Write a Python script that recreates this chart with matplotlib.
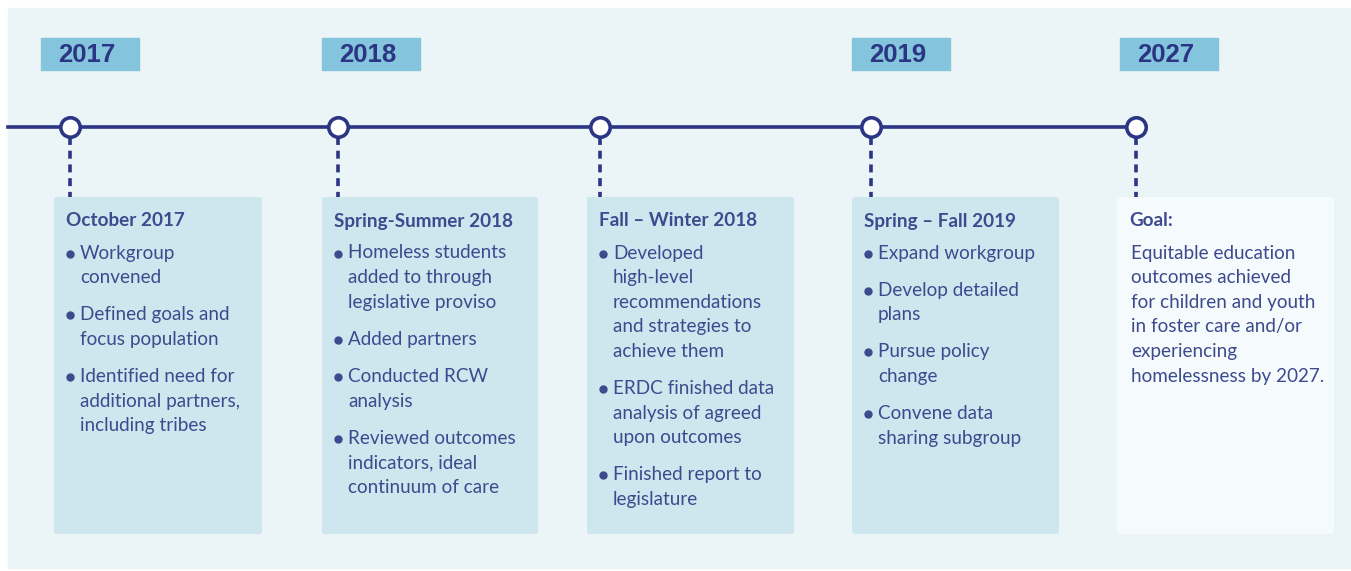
import matplotlib.pyplot as plt
from matplotlib.patches import Rectangle, FancyBboxPatch

# --- contenu de la frise ---
years = ["2017", "2018", "2019", "2027"]
titles = ["October 2017", "Spring-Summer 2018", "Fall \u2013 Winter 2018",
          "Spring \u2013 Fall 2019", "Goal:"]
bullets = [
    [["Workgroup", "convened"],
     ["Defined goals and", "focus population"],
     ["Identified need for", "additional partners,", "including tribes"]],
    [["Homeless students", "added to through", "legislative proviso"],
     ["Added partners"],
     ["Conducted RCW", "analysis"],
     ["Reviewed outcomes", "indicators, ideal", "continuum of care"]],
    [["Developed", "high-level", "recommendations", "and strategies to", "achieve them"],
     ["ERDC finished data", "analysis of agreed", "upon outcomes"],
     ["Finished report to", "legislature"]],
    [["Expand workgroup"],
     ["Develop detailed", "plans"],
     ["Pursue policy", "change"],
     ["Convene data", "sharing subgroup"]],
]
goal_text = ["Equitable education", "outcomes achieved", "for children and youth",
             "in foster care and/or", "experiencing", "homelessness by 2027."]

# --- mise en page (pixels) ---
W, H = 1351, 571
NAVY = "#2B3584"
TXT = "#3D4A8E"
fig = plt.figure(figsize=(W / 100, H / 100), dpi=100)
ax = fig.add_axes([0, 0, 1, 1])
ax.set_xlim(0, W); ax.set_ylim(H, 0); ax.axis("off")

ax.add_patch(Rectangle((8, 8), W - 8, H - 11, color="#EBF4F6", zorder=0))

year_x = [41, 322, 852, 1120]
for x, y in zip(year_x, years):
    ax.add_patch(Rectangle((x, 38), 98, 32, color="#84C4DC", zorder=1))
    ax.text(x + 46, 55, y, ha="center", va="center", fontsize=18.5,
            weight="bold", family="Liberation Sans", color=NAVY, zorder=2)

dots_x = [70, 338, 600, 871, 1136]
line_y = 127
ax.plot([8, dots_x[-1]], [line_y, line_y], color=NAVY, lw=2.6, zorder=2)
for x in dots_x:
    ax.plot([x, x], [line_y + 10, 197], color=NAVY, lw=2.6,
            dashes=(2.2, 1.6), zorder=2)
    ax.plot(x, line_y, "o", ms=14, mfc="white", mec=NAVY, mew=2.6, zorder=3)

box_x = [(54, 262), (322, 538), (587, 794), (852, 1059), (1117, 1334)]
fs = 13.6
lh = 24.6
gap = 12.5
for i, (x0, x1) in enumerate(box_x):
    fc = "#F5FBFC" if i == 4 else "#CEE6EE"
    ax.add_patch(FancyBboxPatch((x0, 197), x1 - x0, 337,
                                boxstyle="round,pad=0,rounding_size=3",
                                fc=fc, ec="none", zorder=1))
    tx = x0 + 12
    ax.text(tx, 221, titles[i], ha="left", va="center", fontsize=fs,
            weight="bold", family="Lato", color=TXT, zorder=2)
    y = 253
    if i == 4:
        for line in goal_text:
            ax.text(tx + 2, y, line, ha="left", va="center", fontsize=fs,
                    family="Lato", color=TXT, zorder=2)
            y += lh
        continue
    for item in bullets[i]:
        ax.plot(tx + 4, y + 0.5, "o", ms=5, color=TXT, zorder=2)
        for line in item:
            ax.text(tx + 14, y, line, ha="left", va="center", fontsize=fs,
                    family="Lato", color=TXT, zorder=2)
            y += lh
        y += gap

fig.savefig("out.png", dpi=100, facecolor="white")
